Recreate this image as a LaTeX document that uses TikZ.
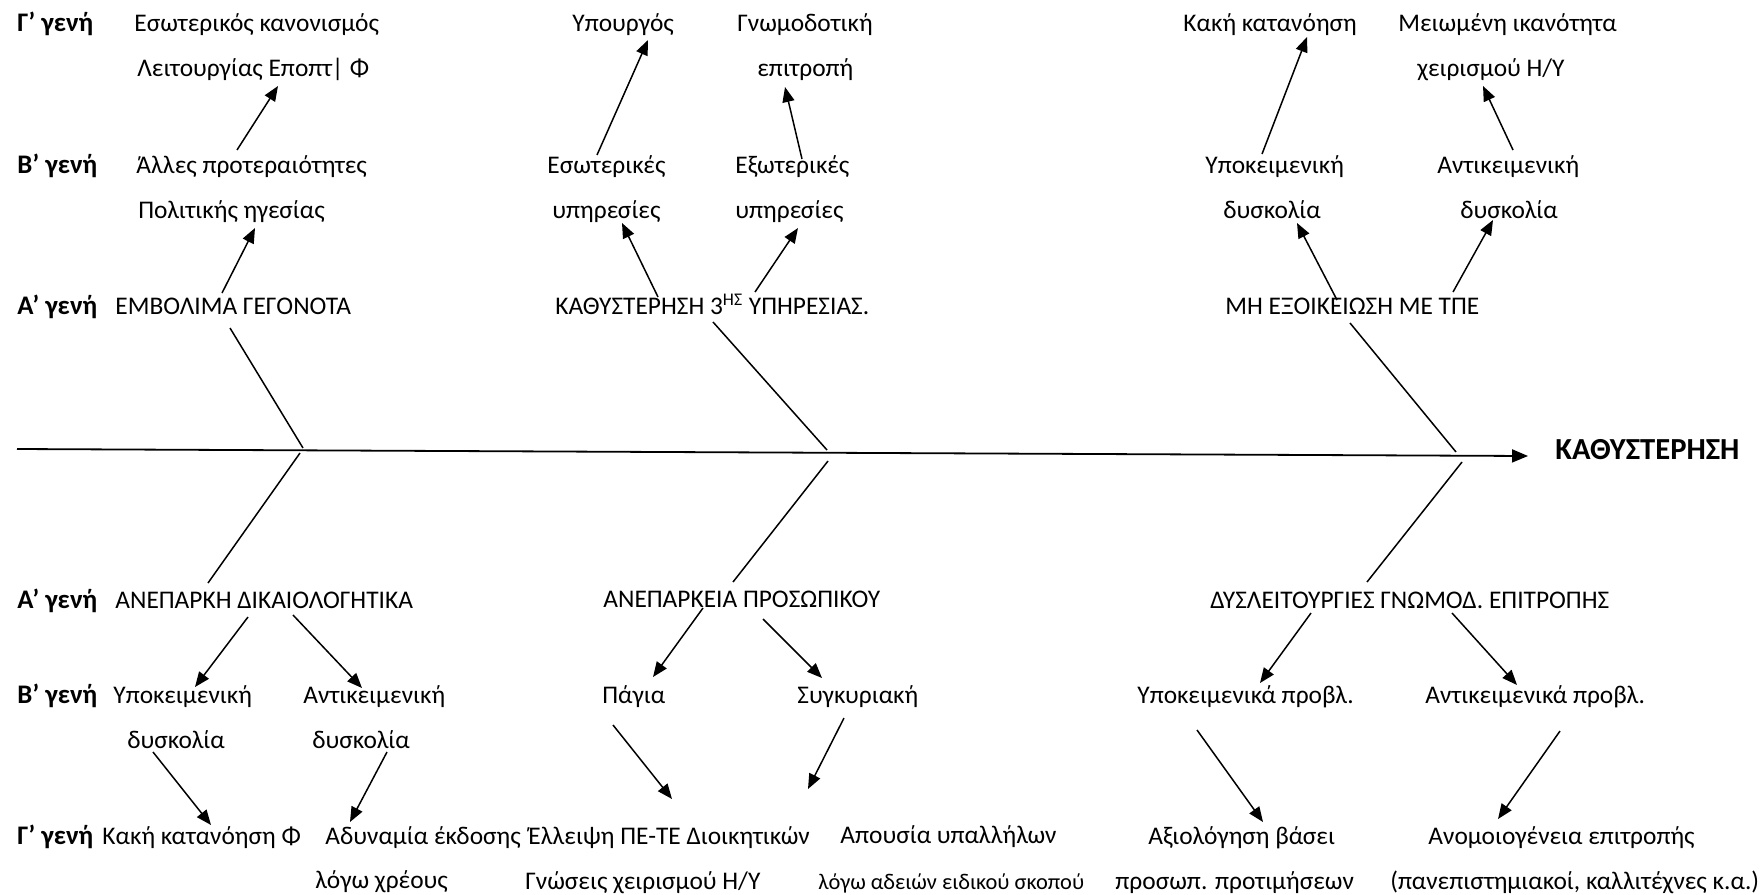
\documentclass[tikz,border=0pt]{standalone}
\usepackage{fontspec}
\setmainfont{Carlito}
\usetikzlibrary{arrows.meta}
\begin{document}
\begin{tikzpicture}[x=0.5pt,y=-0.5pt,
  txt/.style={anchor=west, inner sep=0pt, text height=0.64em, text depth=0pt,
              font=\fontsize{12.7}{15}\selectfont},
  gen/.style={txt, font=\fontsize{13.4}{16}\selectfont\bfseries},
  small/.style={txt, font=\fontsize{11.2}{13}\selectfont},
  head/.style={txt, font=\fontsize{15.3}{18}\selectfont\bfseries},
  arr/.style={-{Triangle[length=7.5pt,width=6pt]}, line width=0.75pt},
  bone/.style={line width=0.75pt},
  spine/.style={-{Triangle[length=8pt,width=6.5pt]}, line width=0.9pt}]
\path[use as bounding box] (0,0) rectangle (1764,894);

% generation labels
\node[gen] (gG1) at (17,25)  {Γ’ γενή};
\node[gen] (gB1) at (17,167) {Β’ γενή};
\node[gen] (gA1) at (17,308) {Α’ γενή};
\node[gen] (gA2) at (17,602) {Α’ γενή};
\node[gen] (gB2) at (17,697) {Β’ γενή};
\node[gen] (gG2) at (17,838) {Γ’ γενή};

% upper half
\node[txt] (t1a) at (134,25)  {Εσωτερικός κανονισμός};
\node[txt] (t1b) at (137,70)  {Λειτουργίας Εποπτ\kern-0.02em|\kern0.25em Φ};
\node[txt] (t2)  at (572,25)  {Υπουργός};
\node[txt] (t3a) at (737,25)  {Γνωμοδοτική};
\node[txt] (t3b) at (757,70)  {επιτροπή};
\node[txt] (t4)  at (1183,25) {Κακή κατανόηση};
\node[txt] (t5a) at (1398,25) {Μειωμένη ικανότητα};
\node[txt] (t5b) at (1417,70) {χειρισμού Η/Υ};

\node[txt] (u1a) at (136,167)  {Άλλες προτεραιότητες};
\node[txt] (u1b) at (138,212)  {Πολιτικής ηγεσίας};
\node[txt] (u2a) at (547,167)  {Εσωτερικές};
\node[txt] (u2b) at (552,212)  {υπηρεσίες};
\node[txt] (u3a) at (735,167)  {Εξωτερικές};
\node[txt] (u3b) at (735,212)  {υπηρεσίες};
\node[txt] (u4a) at (1205,167) {Υποκειμενική};
\node[txt] (u4b) at (1223,212) {δυσκολία};
\node[txt] (u5a) at (1437,167) {Αντικειμενική};
\node[txt] (u5b) at (1460,212) {δυσκολία};

\node[txt] (A1) at (115,308)  {ΕΜΒΟΛΙΜΑ ΓΕΓΟΝΟΤΑ};
\node[txt] (A2) at (555,308)  {ΚΑΘΥΣΤΕΡΗΣΗ 3\textsuperscript{ΗΣ} ΥΠΗΡΕΣΙΑΣ.};
\node[txt] (A3) at (1225,308) {ΜΗ ΕΞΟΙΚΕΙΩΣΗ ΜΕ ΤΠΕ};

% effect
\node[head] (H) at (1555,453) {ΚΑΘΥΣΤΕΡΗΣΗ};

% lower half
\node[txt] (L1) at (115,602)  {ΑΝΕΠΑΡΚΗ ΔΙΚΑΙΟΛΟΓΗΤΙΚΑ};
\node[txt] (L2) at (603,601)  {ΑΝΕΠΑΡΚΕΙΑ ΠΡΟΣΩΠΙΚΟΥ};
\node[txt] (L3) at (1210,602) {ΔΥΣΛΕΙΤΟΥΡΓΙΕΣ ΓΝΩΜΟΔ. ΕΠΙΤΡΟΠΗΣ};

\node[txt] (m1a) at (113,697)  {Υποκειμενική};
\node[txt] (m1b) at (127,742)  {δυσκολία};
\node[txt] (m2a) at (303,697)  {Αντικειμενική};
\node[txt] (m2b) at (312,742)  {δυσκολία};
\node[txt] (m3)  at (602,697)  {Πάγια};
\node[txt] (m4)  at (797,697)  {Συγκυριακή};
\node[txt] (m5)  at (1137,697) {Υποκειμενικά προβλ.};
\node[txt] (m6)  at (1425,697) {Αντικειμενικά προβλ.};

\node[txt]   (n1)  at (102,838)  {Κακή κατανόηση Φ};
\node[txt]   (n2a) at (325,838)  {Αδυναμία έκδοσης};
\node[txt]   (n2b) at (315,882)  {λόγω χρέους};
\node[txt]   (n3a) at (528,838)  {Έλλειψη ΠΕ-ΤΕ Διοικητικών};
\node[txt]   (n3b) at (525,883)  {Γνώσεις χειρισμού Η/Υ};
\node[txt]   (n4a) at (840,837)  {Απουσία υπαλλήλων};
\node[small] (n4b) at (818,883)  {λόγω αδειών ειδικού σκοπού};
\node[txt]   (n5a) at (1148,838) {Αξιολόγηση βάσει};
\node[txt]   (n5b) at (1115,883) {προσωπ. προτιμήσεων};
\node[txt]   (n6a) at (1428,838) {Ανομοιογένεια επιτροπής};
\node[txt]   (n6b) at (1390,883) {(πανεπιστημιακοί, καλλιτέχνες κ.α.)};

% spine and its junctions
\coordinate (s0) at (17,449);
\draw[spine] (s0) -- ([shift={(-27,3)}]H.west);
\coordinate (j1) at (303,448);
\coordinate (j2) at (827,450);
\coordinate (j3) at (1456,452);
\coordinate (k1) at (300,453);
\coordinate (k2) at (828,461);
\coordinate (k3) at (1462,462);

% main bones
\draw[bone] ([shift={(115,20)}]A1.west) -- (j1);
\draw[bone] ([shift={(158,14)}]A2.west) -- (j2);
\draw[bone] ([shift={(125,15)}]A3.west) -- (j3);
\draw[bone] (k1) -- ([shift={(93,-19)}]L1.west);
\draw[bone] (k2) -- ([shift={(130,-19)}]L2.west);
\draw[bone] (k3) -- ([shift={(157,-20)}]L3.west);

% upper arrows
\draw[arr] ([shift={(101,-17)}]u1a.west) -- ([shift={(141,16)}]t1b.west);
\draw[arr] ([shift={(107,-15)}]A1.west)  -- ([shift={(117,16)}]u1b.west);
\draw[arr] ([shift={(50,-12)}]u2a.west)  -- ([shift={(76,15)}]t2.west);
\draw[arr] ([shift={(67,-8)}]u3a.west)   -- ([shift={(28,17)}]t3b.west);
\draw[arr] ([shift={(103,-11)}]A2.west)  -- ([shift={(70,11)}]u2b.west);
\draw[arr] ([shift={(200,-16)}]A2.west)  -- ([shift={(63,16)}]u3b.west);
\draw[arr] ([shift={(57,-13)}]u4a.west)  -- ([shift={(124,12)}]t4.west);
\draw[arr] ([shift={(76,-17)}]u5a.west)  -- ([shift={(66,16)}]t5b.west);
\draw[arr] ([shift={(112,-8)}]A3.west)   -- ([shift={(74,11)}]u4b.west);
\draw[arr] ([shift={(228,-16)}]A3.west)  -- ([shift={(33,8)}]u5b.west);

% lower arrows
\draw[arr] ([shift={(133,15)}]L1.west)  -- ([shift={(82,-10)}]m1a.west);
\draw[arr] ([shift={(178,13)}]L1.west)  -- ([shift={(59,-9)}]m2a.west);
\draw[arr] ([shift={(26,10)}]m1b.west)  -- ([shift={(109,-13)}]n1.west);
\draw[arr] ([shift={(75,10)}]m2b.west)  -- ([shift={(25,-16)}]n2a.west);
\draw[arr] ([shift={(100,7)}]L2.west)   -- ([shift={(51,-20)}]m3.west);
\draw[arr] ([shift={(160,18)}]L2.west)  -- ([shift={(25,-19)}]m4.west);
\draw[arr] ([shift={(11,28)}]m3.west)   -- ([shift={(144,-39)}]n3a.west);
\draw[arr] ([shift={(47,21)}]m4.west)   -- ([shift={(-32,-48)}]n4a.west);
\draw[arr] ([shift={(101,11)}]L3.west)  -- ([shift={(123,-14)}]m5.west);
\draw[arr] ([shift={(242,11)}]L3.west)  -- ([shift={(92,-12)}]m6.west);
\draw[arr] ([shift={(60,33)}]m5.west)   -- ([shift={(115,-16)}]n5a.west);
\draw[arr] ([shift={(135,34)}]m6.west)  -- ([shift={(70,-19)}]n6a.west);
\end{tikzpicture}
\end{document}
